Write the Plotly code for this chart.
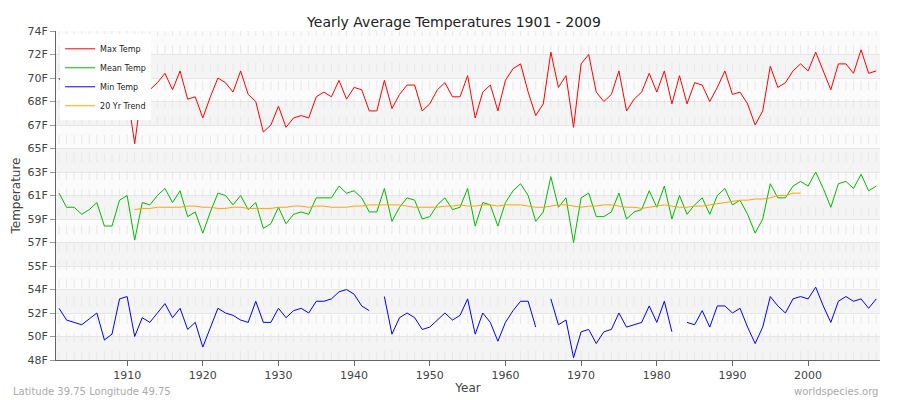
import plotly.graph_objects as go

years = list(range(1901, 2010))
max_c = [21.0,20.4,20.4,19.8,20.2,20.4,19.6,19.3,20.1,20.4,
         18.2,20.6,20.5,20.8,21.2,20.5,21.3,20.1,20.2,19.3,
         20.2,21.0,20.8,20.4,21.3,20.3,20.0,18.7,19.0,19.8,
         18.9,19.3,19.4,19.3,20.2,20.4,20.2,20.9,20.1,20.6,
         20.5,19.6,19.6,20.9,19.7,20.3,20.7,20.7,19.6,19.9,
         20.5,20.8,20.2,20.2,21.1,
         19.3,20.4,20.7,19.6,20.9,21.4,21.6,20.4,19.4,19.9,
         22.1,20.6,21.1,18.9,21.6,22.0,20.4,20.0,20.3,21.3,
         19.6,20.1,20.4,21.2,20.4,21.3,19.9,21.1,19.9,20.8,
         20.7,20.0,20.6,21.3,20.3,20.4,19.9,19.0,19.6,21.5,
         20.6,20.8,21.3,21.6,21.3,22.1,21.3,20.5,21.6,21.6,
         21.2,22.2,21.2,21.3]
mean_c = [16.1,15.5,15.5,15.2,15.4,15.7,14.7,14.7,15.8,16.0,
          14.1,15.7,15.6,16.0,16.3,15.7,16.2,15.1,15.3,14.4,
          15.3,16.1,16.0,15.6,16.0,15.4,15.7,14.6,14.8,15.5,
          14.8,15.2,15.3,15.2,15.9,15.9,15.9,16.4,16.1,16.2,
          15.9,15.3,15.3,16.3,14.9,15.5,15.9,15.8,15.0,15.1,
          15.6,15.9,15.4,15.5,16.3,
          14.7,15.7,15.6,14.7,15.7,16.2,16.5,16.0,14.9,15.3,
          16.8,15.5,15.9,14.0,15.9,16.1,15.1,15.1,15.3,16.1,
          15.0,15.3,15.4,16.2,15.5,16.4,15.0,16.0,15.2,15.6,
          15.9,15.2,16.0,16.3,15.6,15.8,15.2,14.4,15.0,16.5,
          15.9,15.9,16.4,16.6,16.4,17.0,16.3,15.5,16.5,16.6,
          16.3,16.9,16.2,16.4]
min_c = [11.2,10.7,10.6,10.5,10.75,11.0,9.85,10.1,11.6,11.7,
         10.0,10.8,10.6,11.0,11.4,10.8,11.2,10.3,10.6,9.55,
         10.4,11.2,11.0,10.9,10.7,10.6,11.5,10.6,10.6,11.2,
         10.8,11.1,11.2,11.0,11.5,11.5,11.6,11.9,12.0,11.8,
         11.3,11.1,None,11.7,10.1,10.8,11.0,10.8,10.3,10.4,
         10.7,11.0,10.7,10.9,11.6,
         10.1,11.0,10.6,9.8,10.6,11.1,11.5,11.5,10.4,None,
         11.6,10.5,10.7,9.1,10.2,10.3,9.7,10.2,10.3,11.0,
         10.4,10.5,10.6,11.3,10.6,11.5,10.2,None,10.6,10.5,
         11.1,10.4,11.3,11.3,11.0,11.2,10.4,9.7,10.4,11.7,
         11.3,11.0,11.6,11.7,11.6,12.1,11.3,10.6,11.5,11.7,
         11.5,11.6,11.2,11.6]
trend_years = list(range(1911, 2000))
trend_c = [15.4,15.45,15.45,15.5,15.5,15.5,15.5,15.55,15.55,15.5,
           15.5,15.45,15.45,15.5,15.5,15.45,15.45,15.45,15.45,15.5,
           15.5,15.55,15.55,15.5,15.55,15.55,15.5,15.5,15.5,15.55,
           15.55,15.6,15.6,15.6,15.6,15.6,15.55,15.5,15.5,15.5,
           15.5,15.55,15.55,15.6,15.55,15.55,15.6,15.6,15.55,15.6,
           15.6,15.6,15.55,15.5,15.5,15.55,15.6,15.6,15.55,15.5,
           15.55,15.55,15.6,15.6,15.55,15.5,15.5,15.45,15.5,15.55,
           15.6,15.55,15.5,15.5,15.55,15.55,15.6,15.65,15.7,15.75,
           15.8,15.8,15.85,15.85,15.9,16.0,16.0,16.1,16.1]
tick_c = list(range(9, 24))
tick_labels = ["48F","50F","52F","54F","55F","57F","59F","61F","63F",
               "65F","67F","68F","70F","72F","74F"]

fig = go.Figure()
series = [("Max Temp", years, max_c, "#ff0000"),
          ("Mean Temp", years, mean_c, "#00bb00"),
          ("Min Temp", years, min_c, "#0000ff"),
          ("20 Yr Trend", trend_years, trend_c, "#ffa500")]
for name, xs, ys, col in series:
    fig.add_trace(go.Scatter(x=xs, y=ys, name=name, mode="lines",
                             line=dict(color=col, width=1), connectgaps=False))

shapes = []
for c in tick_c[:-1]:
    if c % 2 == 1:
        shapes.append(dict(type="rect", xref="paper", yref="y", x0=0, x1=1,
                           y0=c, y1=c + 1, fillcolor="#f4f4f4", line_width=0, layer="below"))
for yr in range(1901, 2010):
    shapes.append(dict(type="line", xref="x", yref="paper", x0=yr, x1=yr, y0=0, y1=1,
                       line=dict(color="#e8e8e8", width=1, dash="dash"), layer="below"))

fig.update_layout(
    width=892, height=392,
    margin=dict(l=48, r=20, t=23, b=40, autoexpand=False),
    paper_bgcolor="white", plot_bgcolor="#fbfbfb",
    font=dict(family="DejaVu Sans", size=11, color="#444"),
    title=dict(text="Yearly Average Temperatures 1901 - 2009", x=0.5, y=0.965,
               xanchor="center", yanchor="middle", font=dict(size=14, color="#222")),
    shapes=shapes,
    legend=dict(x=0.005, y=0.99, xanchor="left", yanchor="top",
                bgcolor="white", font=dict(size=8, color="#222"),
                itemwidth=30, tracegroupgap=0),
    xaxis=dict(range=[1900.6, 2009.5], tickvals=list(range(1910, 2010, 10)),
               showgrid=False, zeroline=False, showline=True, linecolor="#666",
               ticks="outside", ticklen=5, tickcolor="#666", automargin=False,
               title=dict(text="Year", standoff=2, font=dict(size=12))),
    yaxis=dict(range=[9, 23], tickvals=tick_c, ticktext=tick_labels,
               showgrid=True, gridcolor="#e6e6e6", zeroline=False,
               showline=True, linecolor="#666", ticks="outside", ticklen=5,
               tickcolor="#999", automargin=False,
               title=dict(text="Temperature", standoff=4, font=dict(size=12))),
    annotations=[
        dict(text="Latitude 39.75 Longitude 49.75", xref="paper", yref="paper",
             x=-0.055, y=-0.097, xanchor="left", yanchor="middle", showarrow=False,
             font=dict(size=10, color="#aaa")),
        dict(text="worldspecies.org", xref="paper", yref="paper",
             x=1.0, y=-0.097, xanchor="right", yanchor="middle", showarrow=False,
             font=dict(size=10, color="#aaa")),
    ],
)
fig.write_html("out.html")
